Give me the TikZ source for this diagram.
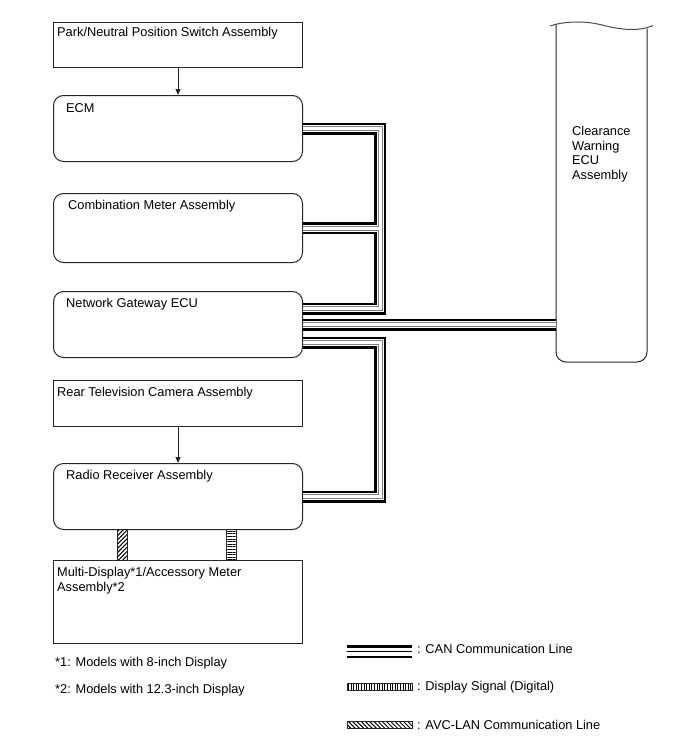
\documentclass[tikz,border=0pt]{standalone}
\usepackage{fontspec}
\setmainfont{Liberation Sans}
\usetikzlibrary{arrows.meta,patterns.meta}
\begin{document}
\begin{tikzpicture}[x=1pt,y=-1pt,
  sqbox/.style={draw=black!85, line width=1pt, minimum width=249pt, anchor=north west, inner sep=0pt},
  rbox/.style={sqbox, rounded corners=10pt},
  lbl/.style={anchor=north west, inner sep=0pt, align=left, font=\fontsize{12.8}{14.5}\selectfont},
  leg/.style={anchor=west, inner sep=0pt, font=\fontsize{12.8}{14.5}\selectfont},
  canA/.style={line width=12pt, black},
  canB/.style={line width=7pt, white},
  canC/.style={line width=5pt, black!50},
  canD/.style={line width=3pt, white},
  arr/.style={-{Triangle[length=6pt,width=5pt]}, line width=0.8pt, black!85},
  disp/.style={draw=black!85, line width=0.8pt, inner sep=0pt, pattern={Lines[angle=0,distance=2.6pt,line width=1pt]}},
  avc/.style={draw=black!85, line width=0.8pt, inner sep=0pt, pattern={Lines[angle=45,distance=3pt,line width=1pt]}}
]
\useasboundingbox[fill=white] (0,0) rectangle (688,755);

% boxes
\node[sqbox, minimum height=45pt] (pn) at (53,22) {};
\node[rbox, minimum height=66pt] (ecm) at (53,95) {};
\node[rbox, minimum height=69pt] (cm) at (53,193) {};
\node[rbox, minimum height=66pt] (gw) at (53,291) {};
\node[sqbox, minimum height=46pt] (rt) at (53,380) {};
\node[rbox, minimum height=66pt] (rr) at (53,463) {};
\node[sqbox, minimum height=83pt] (md) at (53,560) {};
\node[anchor=north west, inner sep=0pt, minimum width=91pt, minimum height=338pt] (cw) at (556,24) {};

% clearance box outline
\draw[black!85, line width=1pt, rounded corners=10pt] (556,24.5) -- (556,362) -- (647,362) -- (647,28.5);
\draw[black!70, line width=1pt] (550,26) .. controls (563,21.5) and (583,20.5) .. (600,24.5) .. controls (617,29) and (637,32.5) .. (653,25.5);

% texts
\node[lbl] (pnt) at (57,27) {Park/Neutral Position Switch Assembly};
\node[lbl] (ecmt) at (66,103.5) {ECM};
\node[lbl] (cmt) at (68,200.5) {Combination Meter Assembly};
\node[lbl] (gwt) at (66,298.5) {Network Gateway ECU};
\node[lbl] (rtt) at (57,387.5) {Rear Television Camera Assembly};
\node[lbl] (rrt) at (66,470.5) {Radio Receiver Assembly};
\node[lbl] (mdt) at (57,567.5) {Multi-Display*1/Accessory Meter\\Assembly*2};
\node[lbl] (cwt) at (572,126.5) {Clearance\\Warning\\ECU\\Assembly};

% arrows
\draw[arr] (pn.south) -- (ecm.north);
\draw[arr] (rt.south) -- (rr.north);

% CAN lines
\coordinate (v1) at (380,0);
\foreach \s in {canA,canB,canC,canD}{
  \draw[\s] (ecm.east) -| ([yshift=16pt]gw.east -| v1) -- ([yshift=16pt]gw.east);
  \draw[\s] (cm.east) -- (cm.east -| v1);
  \draw[\s] (gw.east) -- (gw.east -| cw.west);
  \draw[\s] ([yshift=-18pt]gw.east) -| (rr.east -| v1) -- (rr.east);
}

% display connectors
\node[avc, minimum width=10pt, minimum height=31pt] (c1) at (122,544.5) {};
\node[disp, minimum width=10pt, minimum height=31pt] (c2) at (231.5,544.5) {};

% footnotes
\node[leg] (f1) at (55,663) {*1: Models with 8-inch Display};
\node[leg] (f2) at (55,690) {*2: Models with 12.3-inch Display};

% legend
\coordinate (la) at (347,651.5);
\coordinate (lb) at (412,651.5);
\draw[black, line width=13pt] (la) -- (lb);
\draw[white, line width=8pt] (la) -- (lb);
\draw[black, line width=1.2pt] (la) -- (lb);
\node[leg] (lt1) at (417,649) {: CAN Communication Line};
\node[disp, pattern={Lines[angle=90,distance=2.6pt,line width=1pt]}, minimum width=65pt, minimum height=7pt, anchor=west] (ld) at (347,687) {};
\node[leg] (lt2) at (417,687) {: Display Signal (Digital)};
\node[avc, pattern={Lines[angle=135,distance=3pt,line width=1pt]}, minimum width=65pt, minimum height=7pt, anchor=west] (lv) at (347,725) {};
\node[leg] (lt3) at (417,725) {: AVC-LAN Communication Line};
\end{tikzpicture}
\end{document}
